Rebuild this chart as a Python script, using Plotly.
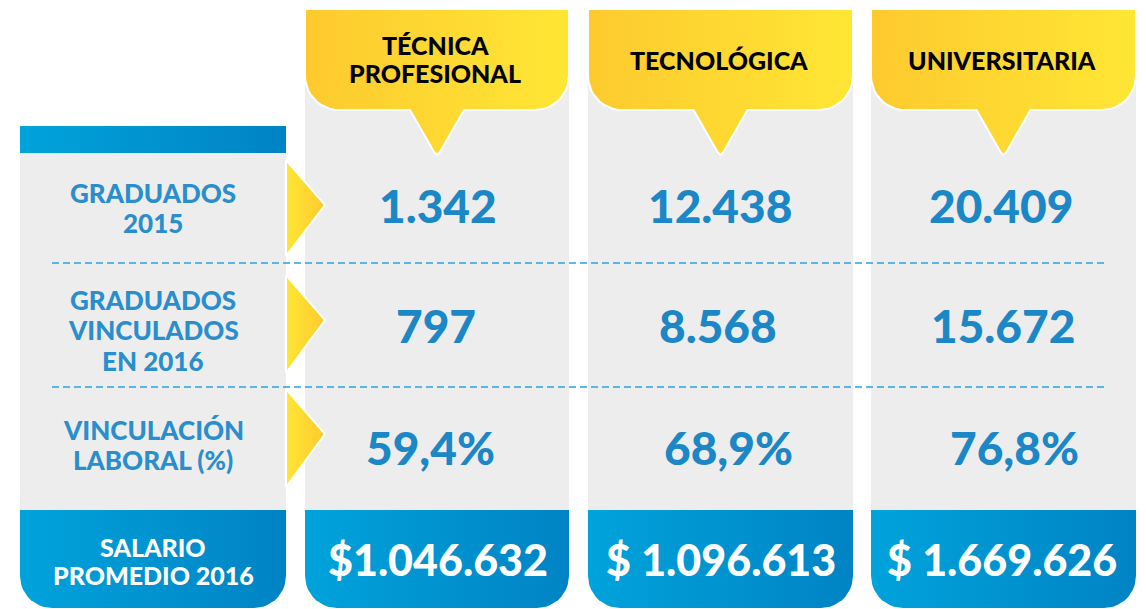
import numpy as np
import plotly.graph_objects as go

# ---------------- data ----------------
categories = ["TÉCNICA<br>PROFESIONAL", "TECNOLÓGICA", "UNIVERSITARIA"]
row_labels = ["GRADUADOS<br>2015", "GRADUADOS<br>VINCULADOS<br>EN 2016", "VINCULACIÓN<br>LABORAL (%)"]
salary_label = "SALARIO<br>PROMEDIO 2016"
graduados_2015 = [1342, 12438, 20409]
vinculados_2016 = [797, 8568, 15672]
vinculacion_pct = [59.4, 68.9, 76.8]
salario_2016 = [1046632, 1096613, 1669626]
salario_prefix = ["$", "$ ", "$ "]

# ---------------- layout geometry ----------------
W, H = 1146, 609
col_x = [(305, 569), (588, 853), (871, 1136)]
lab_x = (20, 286)
value_x = [[438, 720, 1001], [436, 718, 1003], [430, 728, 1014]]
salary_x = [438, 721, 1002]
row_y = [205, 325, 447]
tri_y = [(160, 256, 205), (275, 373, 320), (389, 487, 434)]
GRAY = "#EDEDED"
BLUE_TXT = "#1B87C7"
LAB_TXT = "#2A8ECD"
YEL_L, YEL_R = "#FDCA2E", "#FFE635"
BLU_L, BLU_R = "#00A3DC", "#0083C4"


def arc(cx, cy, r, a0, a1, n=12):
    t = np.linspace(np.radians(a0), np.radians(a1), n)
    return list(cx + r * np.cos(t)), list(cy + r * np.sin(t))


def bottom_rounded(x0, x1, y0, y1, r):
    xs, ys = [x0, x1], [y0, y0]
    ax, ay = arc(x1 - r, y1 - r, r, 0, 90)
    xs += ax; ys += ay
    ax, ay = arc(x0 + r, y1 - r, r, 90, 180)
    xs += ax; ys += ay
    xs.append(x0); ys.append(y0)
    return xs, ys


def header_shape(x0, x1, y0, y1, r, tip_y, half):
    cx = (x0 + x1) / 2
    xs, ys = [x0, x1], [y0, y0]
    ax, ay = arc(x1 - r, y1 - r, r, 0, 90)
    xs += ax; ys += ay
    xs += [cx + half, cx + 3, cx, cx - 3, cx - half]
    ys += [y1, tip_y - 3, tip_y, tip_y - 3, y1]
    ax, ay = arc(x0 + r, y1 - r, r, 90, 180)
    xs += ax; ys += ay
    xs.append(x0); ys.append(y0)
    return xs, ys


fig = go.Figure()


def poly(xs, ys, color=None, grad=None, line_color=None, lw=0):
    kw = dict(x=xs, y=ys, fill="toself", mode="lines", hoverinfo="skip",
              showlegend=False,
              line=dict(width=lw, color=line_color or "rgba(0,0,0,0)"))
    if grad:
        kw["fillgradient"] = dict(type="horizontal", colorscale=[[0, grad[0]], [1, grad[1]]])
    else:
        kw["fillcolor"] = color
    fig.add_trace(go.Scatter(**kw))


# left label column
poly([lab_x[0], lab_x[1], lab_x[1], lab_x[0], lab_x[0]], [153, 153, 511, 511, 153], color=GRAY)
poly([lab_x[0], lab_x[1], lab_x[1], lab_x[0], lab_x[0]], [126, 126, 153, 153, 126], grad=(BLU_L, BLU_R))
bx, by = bottom_rounded(lab_x[0], lab_x[1], 510, 608, 32)
poly(bx, by, grad=(BLU_L, BLU_R))

# category columns
for (x0, x1) in col_x:
    poly([x0, x1, x1, x0, x0], [9, 9, 511, 511, 9], color=GRAY)
    bx, by = bottom_rounded(x0, x1, 510, 608, 32)
    poly(bx, by, grad=(BLU_L, BLU_R))
    hx, hy = header_shape(x0, x1, 9, 110, 34, 155, 27)
    poly(hx, hy, grad=(YEL_L, YEL_R), line_color="white", lw=2)

# arrows
for (t0, t1, tm) in tri_y:
    poly([286, 325, 286, 286], [t0, tm, t1, t0], grad=(YEL_R, YEL_L), line_color="white", lw=2)

# dashed separators
for yy in [263, 387]:
    fig.add_shape(type="line", x0=52, x1=1104, y0=yy, y1=yy, xref="x", yref="y",
                  line=dict(color="#29A3E2", width=1.5, dash="7px,4px"))

FONT = "Lato"


def fmt_int(v):
    return f"{v:,}".replace(",", ".")


def fmt_pct(v):
    return f"{v:.1f}".replace(".", ",") + "%"


ann = []


def multiline(x, yc, text, size, color, spacing):
    lines = text.split("<br>")
    n = len(lines)
    for k, ln in enumerate(lines):
        ann.append(dict(x=x, y=yc + (k - (n - 1) / 2) * spacing, text=ln,
                        font=dict(family=FONT, size=size, color=color, weight=900)))


# headers
header_y = [59, 60, 60]
for i, c in enumerate(categories):
    multiline((col_x[i][0] + col_x[i][1]) / 2 - 2, header_y[i], c, 25, "black", 28)

# row labels
label_centers = [208, 330, 445]
for j, lab in enumerate(row_labels):
    multiline(153, label_centers[j], lab, 26, LAB_TXT, 30.5)
multiline(153, 561, salary_label, 25, "white", 28)

rows = [[fmt_int(v) for v in graduados_2015],
        [fmt_int(v) for v in vinculados_2016],
        [fmt_pct(v) for v in vinculacion_pct]]
for j, r in enumerate(rows):
    for i, t in enumerate(r):
        ann.append(dict(x=value_x[j][i], y=row_y[j], text=t,
                        font=dict(family=FONT, size=46, color=BLUE_TXT, weight=900)))
for i, v in enumerate(salario_2016):
    ann.append(dict(x=salary_x[i], y=559, text=salario_prefix[i] + fmt_int(v),
                    font=dict(family=FONT, size=43, color="white", weight=900)))

for a in ann:
    a.update(xref="x", yref="y", showarrow=False, xanchor="center", yanchor="middle")

fig.update_layout(
    width=W, height=H, autosize=False,
    margin=dict(l=0, r=0, t=0, b=0),
    paper_bgcolor="white", plot_bgcolor="white",
    xaxis=dict(range=[0, W], visible=False, fixedrange=True),
    yaxis=dict(range=[H, 0], visible=False, fixedrange=True),
    annotations=ann,
)
fig.write_html("out.html", config={"displayModeBar": False},
               post_script="document.body.style.margin='0';document.body.style.overflow='hidden';")
